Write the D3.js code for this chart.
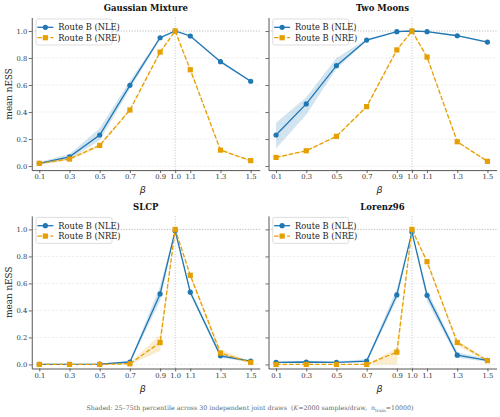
<!DOCTYPE html>
<html><head><meta charset="utf-8">
<script src="https://cdn.jsdelivr.net/npm/d3@7"></script>
<style>body{margin:0;background:#fff}svg{display:block}</style>
</head><body>
<script>
const betas = [0.1,0.3,0.5,0.7,0.9,1.0,1.1,1.3,1.5];
const xTickLabels = ["0.1","0.3","0.5","0.7","0.9","1.0","1.1","1.3","1.5"];
const yTicks = [0.0,0.2,0.4,0.6,0.8,1.0];
const titles = ["Gaussian Mixture","Two Moons","SLCP","Lorenz96"];
const seriesNames = ["Route B (NLE)","Route B (NRE)"];

// Gaussian Mixture
const gmNLE    = [0.02,0.068,0.23,0.598,0.95,1.0,0.963,0.773,0.628];
const gmNLElo  = [0.01,0.05,0.19,0.57,0.94,0.995,0.955,0.765,0.62];
const gmNLEhi  = [0.03,0.09,0.28,0.63,0.96,1.0,0.97,0.78,0.635];
const gmNRE    = [0.02,0.052,0.153,0.415,0.844,1.0,0.713,0.118,0.04];
const gmNRElo  = [0.012,0.042,0.14,0.405,0.835,0.995,0.70,0.11,0.034];
const gmNREhi  = [0.028,0.062,0.165,0.425,0.852,1.0,0.725,0.126,0.046];
// Two Moons
const tmNLE    = [0.23,0.46,0.743,0.933,0.995,1.0,0.995,0.965,0.918];
const tmNLElo  = [0.13,0.38,0.72,0.925,0.99,0.998,0.99,0.96,0.912];
const tmNLEhi  = [0.32,0.51,0.80,0.94,0.998,1.0,0.998,0.97,0.924];
const tmNRE    = [0.064,0.113,0.22,0.44,0.86,1.0,0.807,0.18,0.035];
const tmNRElo  = [0.058,0.107,0.213,0.432,0.852,0.998,0.798,0.172,0.03];
const tmNREhi  = [0.07,0.119,0.227,0.448,0.868,1.0,0.816,0.188,0.04];
// SLCP
const slNLE    = [0.0,0.0,0.002,0.018,0.522,0.99,0.535,0.064,0.025];
const slNLElo  = [0.0,0.0,0.0,0.01,0.47,0.985,0.515,0.05,0.018];
const slNLEhi  = [0.002,0.002,0.005,0.026,0.58,0.995,0.555,0.078,0.032];
const slNRE    = [0.0,0.0,0.0,0.005,0.162,1.0,0.66,0.084,0.015];
const slNRElo  = [0.0,0.0,0.0,0.0,0.10,0.998,0.645,0.06,0.01];
const slNREhi  = [0.002,0.002,0.003,0.012,0.22,1.0,0.675,0.11,0.022];
// Lorenz96
const lzNLE    = [0.015,0.018,0.015,0.025,0.515,0.98,0.512,0.069,0.03];
const lzNLElo  = [0.01,0.01,0.01,0.015,0.48,0.975,0.47,0.05,0.02];
const lzNLEhi  = [0.02,0.028,0.02,0.04,0.56,0.985,0.55,0.09,0.04];
const lzNRE    = [0.0,0.0,0.0,0.0,0.091,1.0,0.761,0.163,0.028];
const lzNRElo  = [0.0,0.0,0.0,0.0,0.0,0.998,0.75,0.14,0.02];
const lzNREhi  = [0.002,0.002,0.002,0.003,0.12,1.0,0.772,0.18,0.036];

const panelData = [
  [[gmNLE,gmNLElo,gmNLEhi],[gmNRE,gmNRElo,gmNREhi]],
  [[tmNLE,tmNLElo,tmNLEhi],[tmNRE,tmNRElo,tmNREhi]],
  [[slNLE,slNLElo,slNLEhi],[slNRE,slNRElo,slNREhi]],
  [[lzNLE,lzNLElo,lzNLEhi],[lzNRE,lzNRElo,lzNREhi]]
];

const W=500,H=417;
const colors=["#1f77b4","#E69F00"];
const serif="'DejaVu Serif', serif";
const svg=d3.select("body").append("svg").attr("width",W).attr("height",H);

const lefts=[31.75,268.5], tops=[17.5,215.9];
const pw=228, ph=152.6;

panelData.forEach((pd,i)=>{
  const col=i%2,row=Math.floor(i/2);
  const x0=lefts[col], y0=tops[row];
  const x=d3.scaleLinear().domain([0.05,1.56]).range([x0,x0+pw]);
  const y=d3.scaleLinear().domain([-0.03,1.10]).range([y0+ph,y0]);
  const g=svg.append("g");
  // grid
  g.selectAll(".grid").data(yTicks.filter(v=>v<1)).enter().append("line")
    .attr("x1",x0).attr("x2",x0+pw).attr("y1",d=>y(d)).attr("y2",d=>y(d))
    .attr("stroke","#e3e3e3").attr("stroke-width",0.6).attr("stroke-dasharray","2.5,1.5");
  // reference lines
  g.append("line").attr("x1",x0).attr("x2",x0+pw).attr("y1",y(1)).attr("y2",y(1))
    .attr("stroke","#aaa").attr("stroke-width",0.8).attr("stroke-dasharray","1.2,1.5");
  g.append("line").attr("x1",x(1)).attr("x2",x(1)).attr("y1",y0).attr("y2",y0+ph)
    .attr("stroke","#bbb").attr("stroke-width",0.8).attr("stroke-dasharray","1.2,1.5");
  // bands
  pd.forEach((s,k)=>{
    const area=d3.area().x((d,j)=>x(betas[j])).y0((d,j)=>y(s[1][j])).y1((d,j)=>y(s[2][j]));
    g.append("path").datum(s[0]).attr("d",area).attr("fill",colors[k]).attr("fill-opacity",0.2);
  });
  // lines
  pd.forEach((s,k)=>{
    const line=d3.line().x((d,j)=>x(betas[j])).y(d=>y(d));
    g.append("path").datum(s[0]).attr("d",line).attr("fill","none").attr("stroke",colors[k])
      .attr("stroke-width",1.3).attr("stroke-dasharray",k===1?"4.5,2":null);
    if(k===0){
      g.selectAll(".m"+k).data(s[0]).enter().append("circle")
        .attr("cx",(d,j)=>x(betas[j])).attr("cy",d=>y(d)).attr("r",2.6).attr("fill",colors[k]);
    } else {
      g.selectAll(".m"+k).data(s[0]).enter().append("rect")
        .attr("x",(d,j)=>x(betas[j])-2.6).attr("y",d=>y(d)-2.6).attr("width",5.2).attr("height",5.2).attr("fill",colors[k]);
    }
  });
  // axes
  const xa=d3.axisBottom(x).tickValues(betas).tickFormat((d,j)=>xTickLabels[j]).tickSize(3).tickSizeOuter(0);
  const ya=d3.axisLeft(y).tickValues(yTicks).tickFormat(col===0?d3.format(".1f"):"").tickSize(3).tickSizeOuter(0);
  const gx=g.append("g").attr("transform",`translate(0,${y0+ph})`).call(xa);
  const gy=g.append("g").attr("transform",`translate(${x0},0)`).call(ya);
  [gx,gy].forEach(a=>{
    a.select(".domain").attr("stroke","#444").attr("stroke-width",0.9);
    a.selectAll(".tick line").attr("stroke","#444").attr("stroke-width",0.8);
    a.selectAll("text").attr("font-family",serif).attr("font-size",6.8).attr("fill","#333");
  });
  gx.selectAll("text").attr("dy","0.71em").attr("y",4.5);
  gy.selectAll("text").attr("x",-4.5);
  // title
  g.append("text").attr("x",x0+pw/2).attr("y",y0-6.3).attr("text-anchor","middle")
    .attr("font-family",serif).attr("font-weight","bold").attr("font-size",8.5).attr("fill","#111").text(titles[i]);
  // xlabel
  g.append("text").attr("x",x0+pw/2-3).attr("y",y0+ph+23).attr("text-anchor","middle")
    .attr("font-family","'DejaVu Sans', sans-serif").attr("font-style","italic").attr("font-size",9.5).attr("fill","#222").text("β");
  if(col===0){
    g.append("text").attr("transform",`translate(11.5,${y0+ph/2}) rotate(-90)`).attr("text-anchor","middle")
      .attr("font-family",serif).attr("font-size",8.8).attr("fill","#222").text("mean nESS");
  }
  // legend
  const lx=x0+4.3, ly=y0+1.5;
  const lg=g.append("g");
  lg.append("rect").attr("x",lx).attr("y",ly).attr("width",76).attr("height",26).attr("rx",2)
    .attr("fill","#fff").attr("fill-opacity",0.85).attr("stroke","#d0d0d0").attr("stroke-width",0.7);
  seriesNames.forEach((nm,k)=>{
    const yy=ly+8.3+k*10.4;
    lg.append("line").attr("x1",lx+1.3).attr("x2",lx+17.3).attr("y1",yy).attr("y2",yy)
      .attr("stroke",colors[k]).attr("stroke-width",1.3).attr("stroke-dasharray",k===1?"4.5,2":null);
    if(k===0) lg.append("circle").attr("cx",lx+9.3).attr("cy",yy).attr("r",2.6).attr("fill",colors[k]);
    else lg.append("rect").attr("x",lx+6.7).attr("y",yy-2.6).attr("width",5.2).attr("height",5.2).attr("fill",colors[k]);
    lg.append("text").attr("x",lx+22.3).attr("y",yy+2.8).attr("font-family",serif).attr("font-size",8.3)
      .attr("fill","#222").text(nm);
  });
});

// footer
const ft=svg.append("text").attr("x",250).attr("y",410).attr("text-anchor","middle")
  .attr("font-family",serif).attr("font-size",6.3).attr("fill","#666");
ft.append("tspan").text("Shaded: 25–75th percentile across 30 independent joint draws\u00a0\u00a0(");
ft.append("tspan").attr("font-style","italic").text("K");
ft.append("tspan").text("=2000 samples/draw,\u00a0\u00a0");
ft.append("tspan").attr("font-style","italic").text("n");
ft.append("tspan").attr("font-size",4.4).attr("dy",1.5).text("train");
ft.append("tspan").attr("dy",-1.5).text("=10000)");
</script>
</body></html>
